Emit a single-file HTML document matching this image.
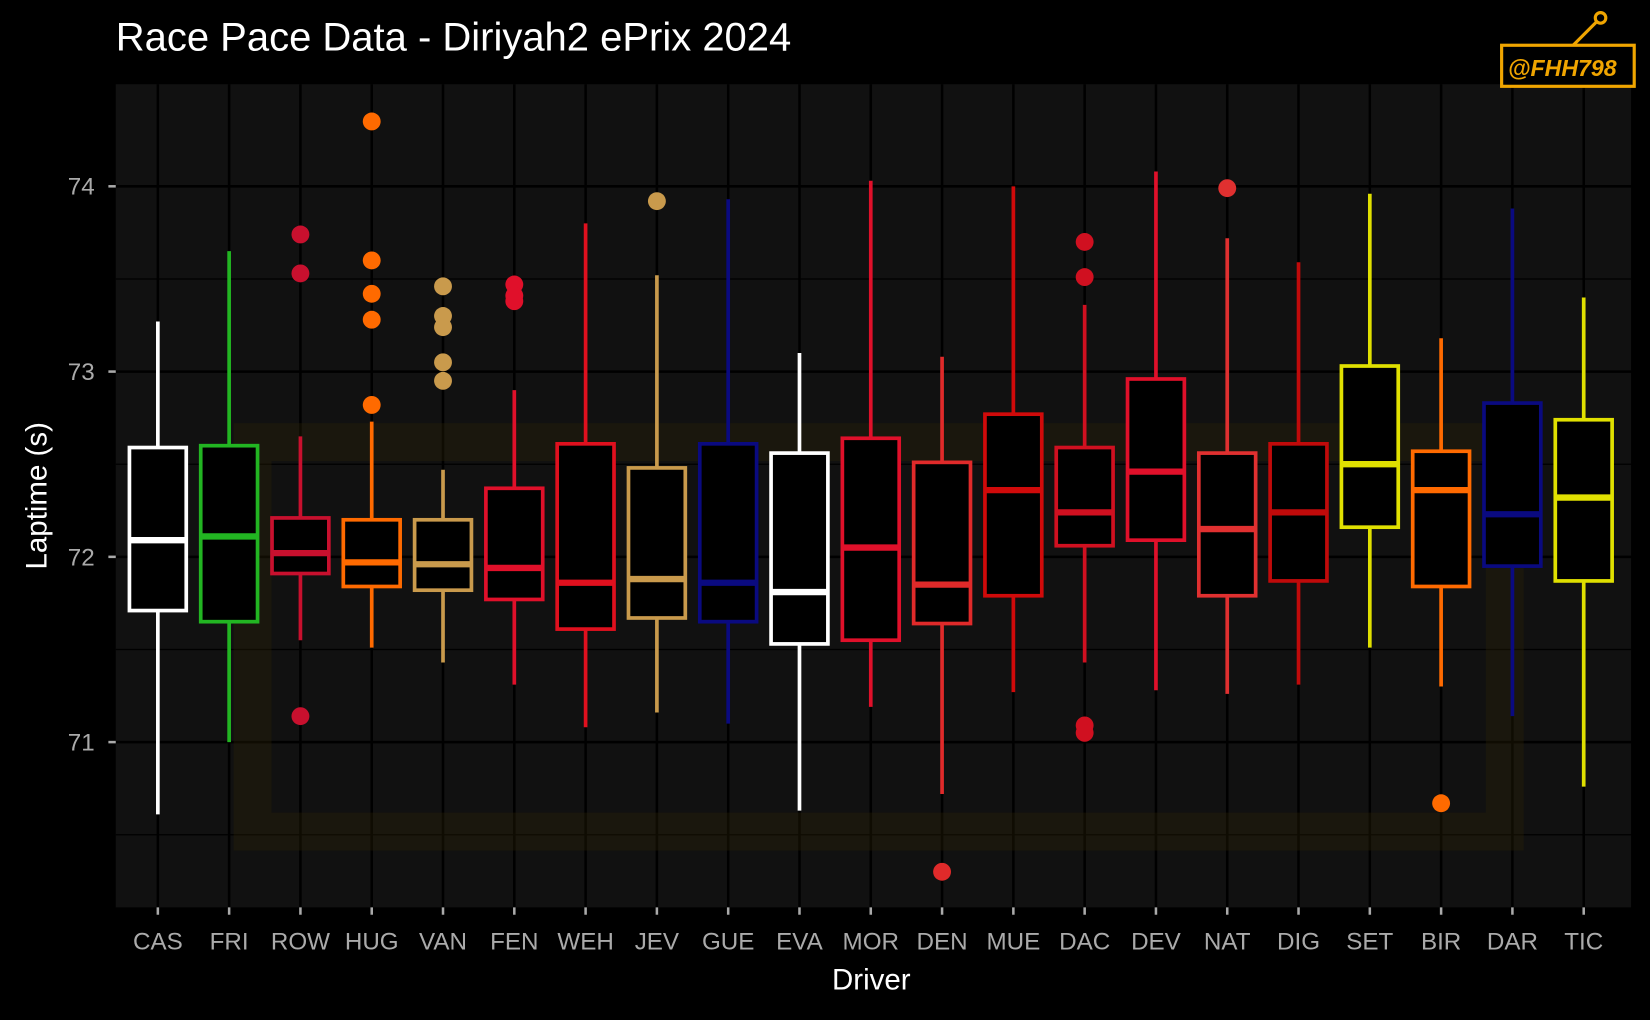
<!DOCTYPE html>
<html><head><meta charset="utf-8"><style>
html,body{margin:0;padding:0;background:#000;width:1650px;height:1020px;overflow:hidden}
svg{display:block}
text{font-family:"Liberation Sans",Arial,sans-serif}
</style></head><body>
<svg id="chart" width="1650" height="1020" viewBox="0 0 1568 969" preserveAspectRatio="none">
<rect x="0" y="0" width="1568" height="969" fill="#000"/>
<text x="110" y="48" font-size="38" fill="#fff">Race Pace Data - Diriyah2 ePrix 2024</text>
<rect x="110" y="80" width="1440" height="782" fill="#111"/>
<g id="grid"></g>
<rect x="240" y="420" width="1190" height="370" fill="none" stroke="#2a2205" stroke-width="36" opacity="0.35"/>
<g id="marks"></g>
<g id="axes"></g>
<g>
<rect x="1427" y="43" width="126" height="39" fill="#000" stroke="#f0a500" stroke-width="3"/>
<text x="1433" y="72" font-size="22" font-weight="bold" font-style="italic" fill="#f0a500">@FHH798</text>
<line x1="1495" y1="43" x2="1518" y2="20" stroke="#f0a500" stroke-width="3"/>
<circle cx="1521" cy="17" r="5" fill="none" stroke="#f0a500" stroke-width="3"/>
</g>
<text x="828" y="940" font-size="28" fill="#fff" text-anchor="middle">Driver</text>
<text transform="translate(44,471) rotate(-90)" font-size="28" fill="#fff" text-anchor="middle">Laptime (s)</text>
</svg>
<script>
const drivers=["CAS","FRI","ROW","HUG","VAN","FEN","WEH","JEV","GUE","EVA","MOR","DEN","MUE","DAC","DEV","NAT","DIG","SET","BIR","DAR","TIC"];
const colors=["#ffffff","#22b522","#c8102e","#ff6a00","#c99a4c","#e0102a","#e0101e","#c99a4c","#0a0a80","#ffffff","#e0102a","#e02a2a","#d00a0a","#d01020","#e0102a","#e03030","#c00a0a","#e0e000","#ff6a00","#0a0a80","#e0e000"];
const lowW=[70.61,71.0,71.55,71.51,71.43,71.31,71.08,71.16,71.1,70.63,71.19,70.72,71.27,71.43,71.28,71.26,71.31,71.51,71.30,71.14,70.76];
const q1=[71.71,71.65,71.91,71.84,71.82,71.77,71.61,71.67,71.65,71.53,71.55,71.64,71.79,72.06,72.09,71.79,71.87,72.16,71.84,71.95,71.87];
const med=[72.09,72.11,72.02,71.97,71.96,71.94,71.86,71.88,71.86,71.81,72.05,71.85,72.36,72.24,72.46,72.15,72.24,72.5,72.36,72.23,72.32];
const q3=[72.59,72.60,72.21,72.2,72.2,72.37,72.61,72.48,72.61,72.56,72.64,72.51,72.77,72.59,72.96,72.56,72.61,73.03,72.57,72.83,72.74];
const highW=[73.27,73.65,72.65,72.73,72.47,72.9,73.8,73.52,73.93,73.1,74.03,73.08,74.0,73.36,74.08,73.72,73.59,73.96,73.18,73.88,73.4];
const outliers=[[],[],[73.74,73.53,71.14],[74.35,73.6,73.42,73.28,72.82],[73.46,73.3,73.24,73.05,72.95],[73.47,73.41,73.38],[],[73.92],[],[],[],[70.30],[],[73.70,73.51,71.09,71.05],[],[73.99],[],[],[70.67],[],[]];
const yTicks=[71,72,73,74];
const yMinor=[70.5,71.5,72.5,73.5];

const NS="http://www.w3.org/2000/svg";
const X0=110,X1=1550,Y0=80,Y1=862;
function xs(i){return 150+i*67.75;}
function ys(v){return 529-(v-72)*176;}
function mk(tag,attrs,parent){const e=document.createElementNS(NS,tag);for(const k in attrs)e.setAttribute(k,attrs[k]);parent.appendChild(e);return e;}
const grid=document.getElementById('grid'),marks=document.getElementById('marks'),axes=document.getElementById('axes');
yMinor.forEach(v=>{const l=mk('line',{x1:X0,x2:X1,y1:ys(v),y2:ys(v),stroke:'#000','stroke-width':1.2},grid);

});
yTicks.forEach(v=>{const l=mk('line',{x1:X0,x2:X1,y1:ys(v),y2:ys(v),stroke:'#000','stroke-width':2.4},grid);


const t=mk('line',{x1:X0-7,x2:X0,y1:ys(v),y2:ys(v),stroke:'#aaa','stroke-width':2.4},axes);


const tx=mk('text',{x:X0-20,y:ys(v)+8,'font-size':23,fill:'#aaa','text-anchor':'end'},axes);tx.textContent=v;

});
drivers.forEach((d,i)=>{const x=xs(i),c=colors[i],w=27;
const gl=mk('line',{x1:x,x2:x,y1:Y0,y2:Y1,stroke:'#000','stroke-width':2.4},grid);


const g=mk('g',{},marks);


mk('line',{x1:x,x2:x,y1:ys(highW[i]),y2:ys(q3[i]),stroke:c,'stroke-width':3.5},g);
mk('line',{x1:x,x2:x,y1:ys(q1[i]),y2:ys(lowW[i]),stroke:c,'stroke-width':3.5},g);
mk('rect',{x:x-w,y:ys(q3[i]),width:2*w,height:ys(q1[i])-ys(q3[i]),fill:'#000',stroke:c,'stroke-width':3.5},g);
mk('line',{x1:x-w,x2:x+w,y1:ys(med[i]),y2:ys(med[i]),stroke:c,'stroke-width':6},g);
outliers[i].forEach(v=>{const p=mk('circle',{cx:x,cy:ys(v),r:8.5,fill:c},marks);

});
const t=mk('line',{x1:x,x2:x,y1:Y1,y2:Y1+7,stroke:'#aaa','stroke-width':2.4},axes);


const tx=mk('text',{x:x,y:902,'font-size':23,fill:'#aaa','text-anchor':'middle'},axes);tx.textContent=d;

});
</script>
</body></html>
